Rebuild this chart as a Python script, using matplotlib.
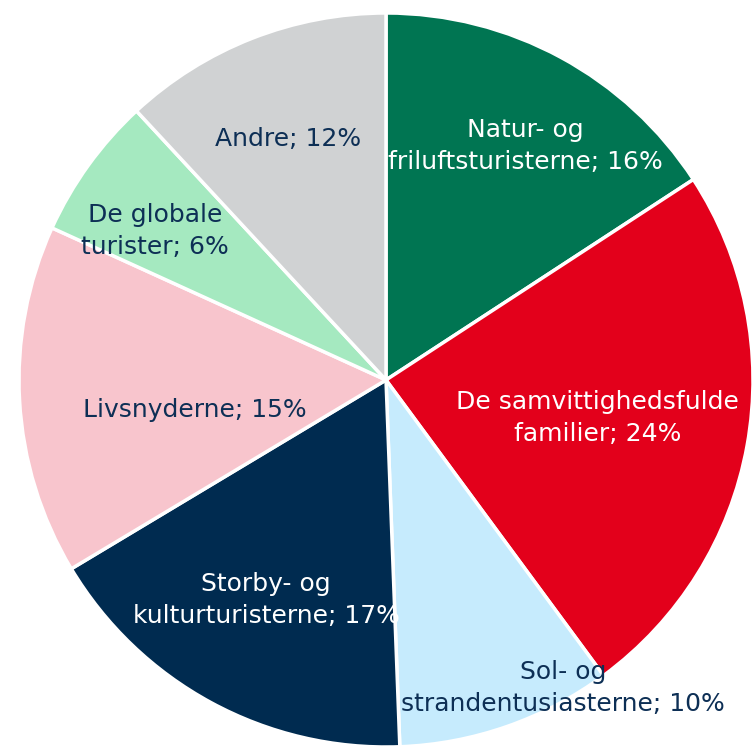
import numpy as np
import matplotlib
matplotlib.use("Agg")
import matplotlib.pyplot as plt

categories = ["Natur- og\nfriluftsturisterne", "De samvittighedsfulde\nfamilier", "Sol- og\nstrandentusiasterne",
              "Storby- og\nkulturturisterne", "Livsnyderne", "De globale\nturister", "Andre"]
values = [15.8, 24.1, 9.5, 17.0, 15.4, 6.3, 11.9]
colors = ["#007552", "#E3001B", "#C6EBFD", "#002B50", "#F8C5CD", "#A5E9C0", "#D0D2D3"]
text_colors = ["white", "white", "#0D2F55", "white", "#0D2F55", "#0D2F55", "#0D2F55"]
# label placement (radius fraction, angle offset in degrees clockwise)
label_r = [0.742, 0.585, 0.968, 0.682, 0.528, 0.749, 0.709]
label_off = [2.3, 0.0, -10.6, 0.2, -5.7, -3.0, -0.7]

W, H = 754, 746
cx, cy, R = 386, 380, 367
fig = plt.figure(figsize=(W / 100, H / 100), dpi=100)
ax = fig.add_axes([0, 0, 1, 1])

wedges, _ = ax.pie(values, colors=colors, startangle=90, counterclock=False, radius=1.0,
                   wedgeprops=dict(edgecolor="white", linewidth=2.5), frame=True)
ax.set_xlim(-cx / R, (W - cx) / R)
ax.set_ylim(-(H - cy) / R, cy / R)
ax.set_aspect("auto")
ax.axis("off")

total = sum(values)
cum = 0.0
for i, v in enumerate(values):
    mid = (cum + v / 2) / total * 360 + label_off[i]
    cum += v
    th = np.deg2rad(90 - mid)
    x, y = label_r[i] * np.cos(th), label_r[i] * np.sin(th)
    ax.text(x, y, f"{categories[i]}; {v:.0f}%", ha="center", va="center", fontsize=18,
            color=text_colors[i], family="DejaVu Sans", linespacing=1.42)

fig.savefig("out.png", dpi=100)
